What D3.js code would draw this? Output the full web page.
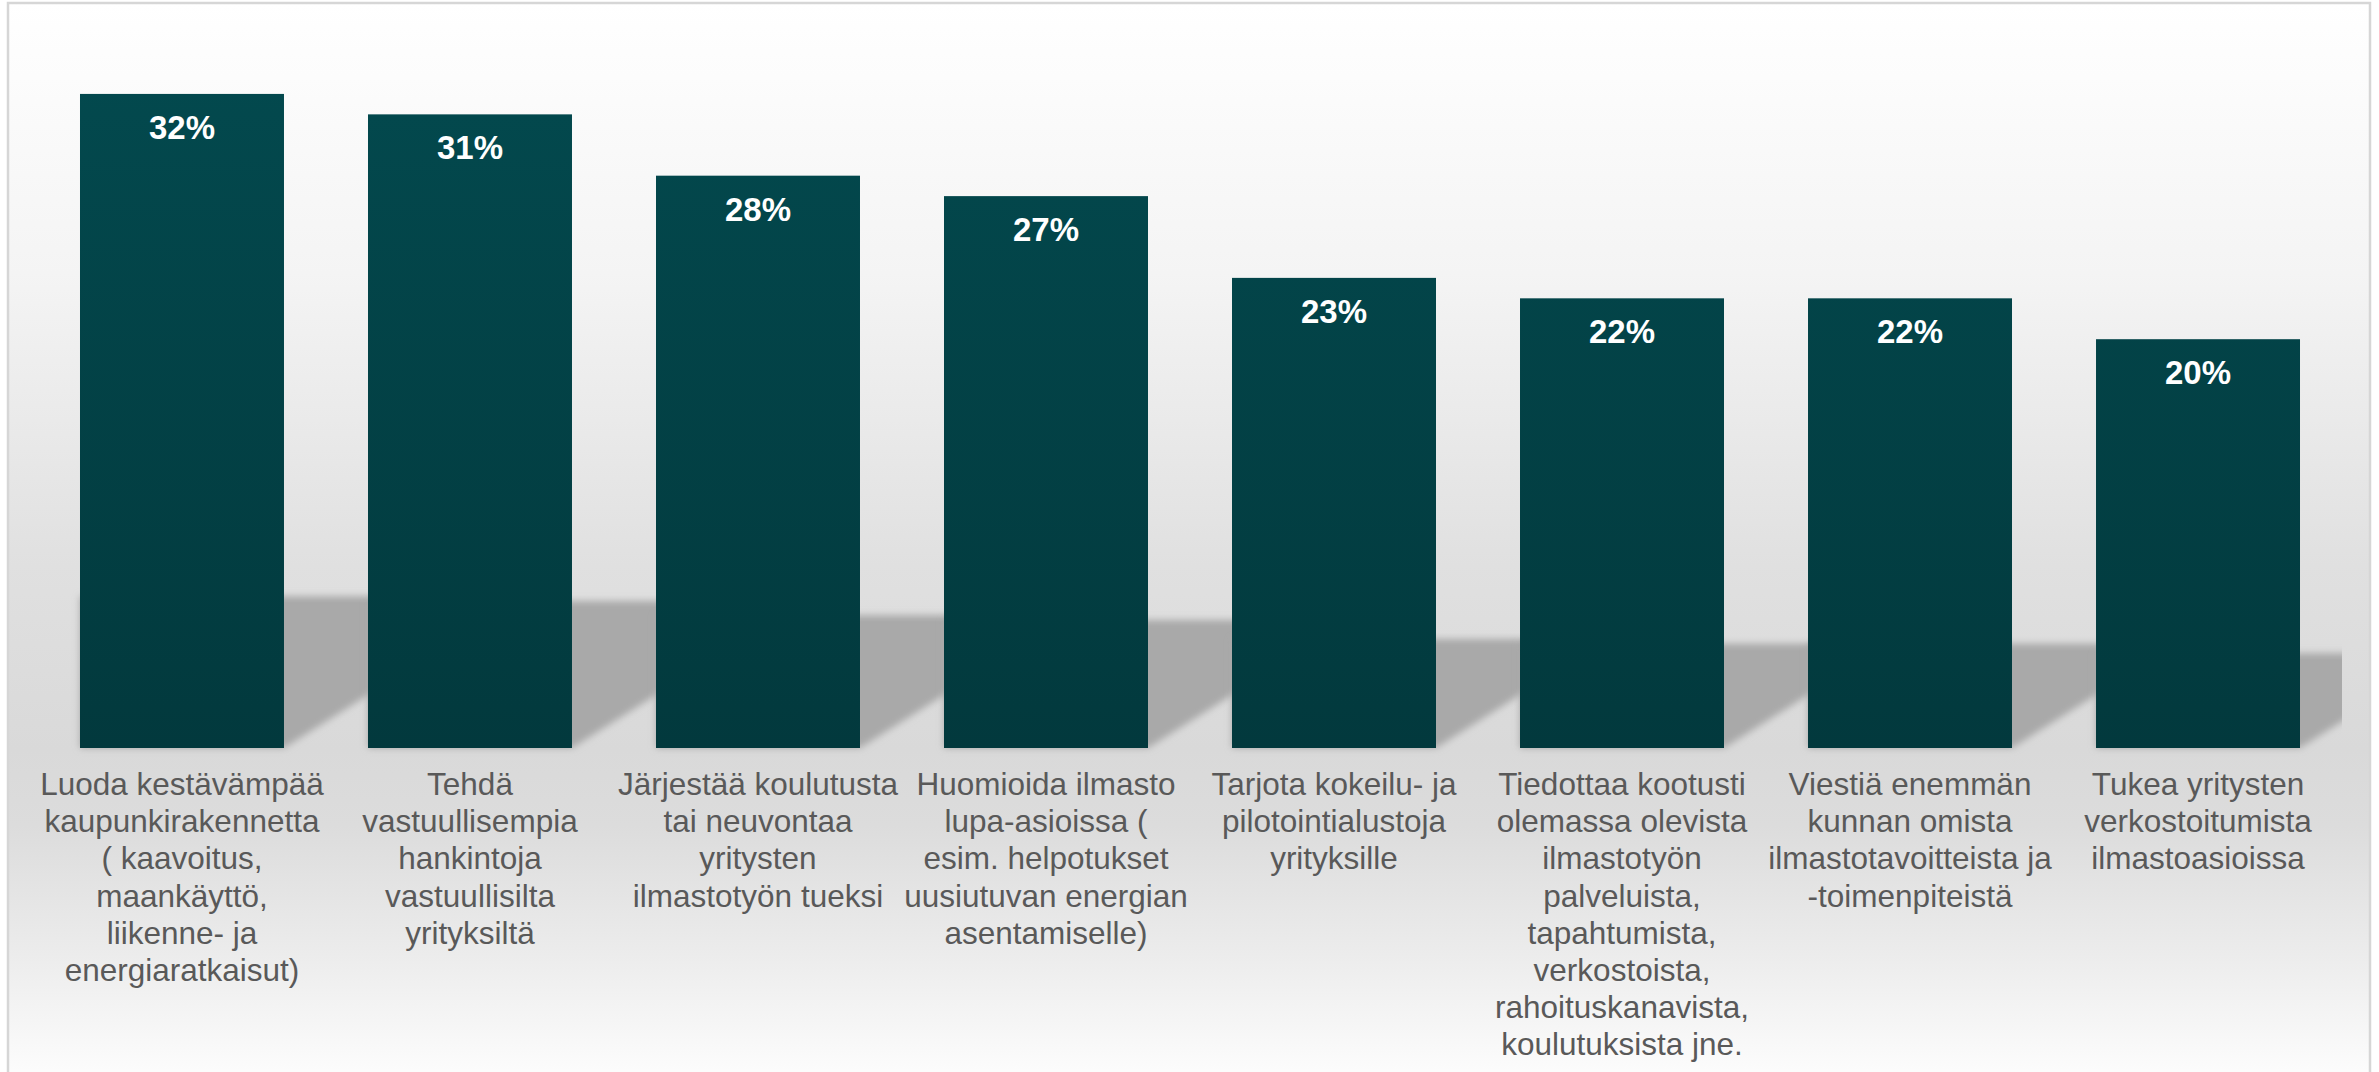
<!DOCTYPE html>
<html>
<head>
<meta charset="utf-8">
<script src="https://cdn.jsdelivr.net/npm/d3@7"></script>
<style>
  body { margin: 0; background: #fff; }
  svg { display: block; font-family: "Liberation Sans", Arial, sans-serif; }
</style>
</head>
<body>
<script>
// categories, line breaks as in the original slide
var categories = [
  "Luoda kestävämpää\nkaupunkirakennetta\n( kaavoitus,\nmaankäyttö,\nliikenne- ja\nenergiaratkaisut)",
  "Tehdä\nvastuullisempia\nhankintoja\nvastuullisilta\nyrityksiltä",
  "Järjestää koulutusta\ntai neuvontaa\nyritysten\nilmastotyön tueksi",
  "Huomioida ilmasto\nlupa-asioissa (\nesim. helpotukset\nuusiutuvan energian\nasentamiselle)",
  "Tarjota kokeilu- ja\npilotointialustoja\nyrityksille",
  "Tiedottaa kootusti\nolemassa olevista\nilmastotyön\npalveluista,\ntapahtumista,\nverkostoista,\nrahoituskanavista,\nkoulutuksista jne.",
  "Viestiä enemmän\nkunnan omista\nilmastotavoitteista ja\n-toimenpiteistä",
  "Tukea yritysten\nverkostoitumista\nilmastoasioissa"
];
var values = [32, 31, 28, 27, 23, 22, 22, 20];
var yMax = 35;

var width = 2379, height = 1072;
var svg = d3.select('body').append('svg')
  .attr('width', width).attr('height', height);

var defs = svg.append('defs');

// background gradient of the chart area
var bg = defs.append('linearGradient').attr('id', 'bg')
  .attr('x1', 0).attr('y1', 0).attr('x2', 0).attr('y2', 1);
[[0, '#ffffff'], [0.25, '#f4f4f4'], [0.52, '#e0e0e0'], [0.69, '#d9d9d9'],
 [0.76, '#dcdcdc'], [0.88, '#ececec'], [1, '#fefefe']].forEach(function (s) {
  bg.append('stop').attr('offset', s[0]).attr('stop-color', s[1]);
});

var barGrad = defs.append('linearGradient').attr('id', 'barGrad')
  .attr('gradientUnits', 'userSpaceOnUse')
  .attr('x1', 0).attr('y1', 33).attr('x2', 0).attr('y2', 748);
barGrad.append('stop').attr('offset', 0).attr('stop-color', '#034a4f');
barGrad.append('stop').attr('offset', 1).attr('stop-color', '#02393d');

var blur = defs.append('filter').attr('id', 'blur')
  .attr('x', '-10%').attr('y', '-10%').attr('width', '120%').attr('height', '120%');
blur.append('feGaussianBlur').attr('stdDeviation', 3.5);

defs.append('clipPath').attr('id', 'plotClip')
  .append('rect').attr('x', 0).attr('y', 0).attr('width', 2342).attr('height', height);

svg.append('rect')
  .attr('x', 8).attr('y', 3).attr('width', 2362).attr('height', height + 10)
  .attr('fill', 'url(#bg)')
  .attr('stroke', '#d6d6d6').attr('stroke-width', 2.5);

var x = d3.scaleBand()
  .domain(categories)
  .range([38, 2342])
  .paddingInner(0.2917)
  .paddingOuter(0.1458);

var y = d3.scaleLinear()
  .domain([0, yMax])
  .range([748, 32.6]);

var data = categories.map(function (c, i) { return { cat: c, value: values[i] }; });

// soft "floor" shadow behind each bar
var shadowG = svg.append('g').attr('clip-path', 'url(#plotClip)');
shadowG.selectAll('path').data(data).enter().append('path')
  .attr('fill', '#a9a9a9')
  .attr('filter', 'url(#blur)')
  .attr('d', function (d) {
    var x0 = x(d.cat), x1 = x0 + x.bandwidth();
    var yb = y(0), h = y(0) - y(d.value);
    var sh = h * 0.232, e = 110;
    return 'M' + x0 + ',' + yb
      + 'L' + x1 + ',' + yb
      + 'L' + (x1 + e) + ',' + (yb - e * 0.63)
      + 'L' + (x1 + e) + ',' + (yb - sh)
      + 'L' + x0 + ',' + (yb - sh) + 'Z';
  });

svg.append('g').selectAll('rect').data(data).enter().append('rect')
  .attr('x', function (d) { return x(d.cat); })
  .attr('y', function (d) { return y(d.value); })
  .attr('width', x.bandwidth())
  .attr('height', function (d) { return y(0) - y(d.value); })
  .attr('fill', 'url(#barGrad)');

svg.append('g').selectAll('text').data(data).enter().append('text')
  .attr('x', function (d) { return x(d.cat) + x.bandwidth() / 2; })
  .attr('y', function (d) { return y(d.value) + 45; })
  .attr('text-anchor', 'middle')
  .attr('fill', '#ffffff')
  .attr('font-weight', 'bold')
  .attr('font-size', 33)
  .text(function (d) { return d.value + '%'; });

var xAxis = svg.append('g')
  .attr('transform', 'translate(0,' + y(0) + ')')
  .call(d3.axisBottom(x).tickSize(0));
xAxis.select('.domain').remove();
xAxis.selectAll('.tick text')
  .attr('y', 47).attr('dy', 0)
  .attr('fill', '#595959')
  .attr('font-size', 31.5)
  .attr('font-family', '"Liberation Sans", Arial, sans-serif')
  .each(function (d) {
    var t = d3.select(this);
    t.text(null);
    d.split('\n').forEach(function (line, i) {
      t.append('tspan').attr('x', 0).attr('dy', i ? 37.2 : 0).text(line);
    });
  });
</script>
</body>
</html>
